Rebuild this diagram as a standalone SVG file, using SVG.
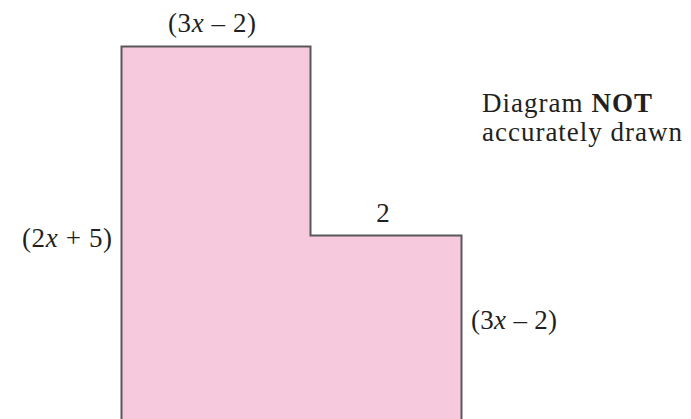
<svg xmlns="http://www.w3.org/2000/svg" width="691" height="419" viewBox="0 0 691 419">
<style>
.t{font-family:"Liberation Serif","DejaVu Serif",serif;font-size:27px;fill:#231f20}
.i{font-style:italic}
.b{font-weight:bold}
</style>
<rect width="691" height="419" fill="#fff"/>
<g id="shape">
<path d="M121.5,46.5 H310.5 V235.5 H461.5 V425 H121.5 Z" fill="#f7c9dd" stroke="#58585a" stroke-width="2"/>
</g>
<g id="labels">
<text class="t" x="168" y="32" textLength="88">(3<tspan class="i">x</tspan> – 2)</text>
<text class="t" x="383" y="222" text-anchor="middle">2</text>
<text class="t" x="22" y="247" textLength="90">(2<tspan class="i">x</tspan> + 5)</text>
<text class="t" x="471" y="329" textLength="86">(3<tspan class="i">x</tspan> – 2)</text>
<text class="t" x="482" y="112" textLength="170">Diagram <tspan class="b">NOT</tspan></text>
<text class="t" x="482" y="141" textLength="200">accurately drawn</text>
</g>
</svg>
